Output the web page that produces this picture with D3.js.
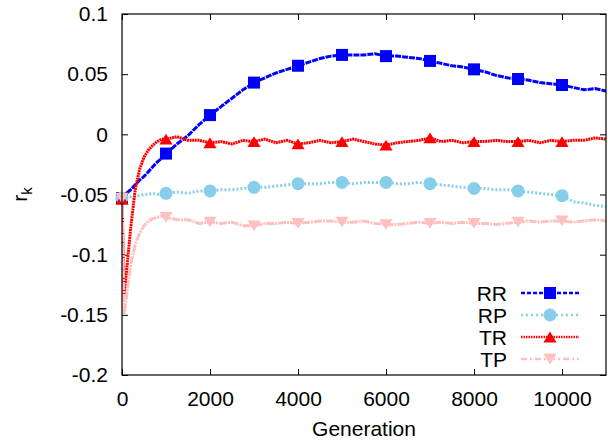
<!DOCTYPE html>
<html>
<head>
<meta charset="utf-8">
<script src="https://cdn.jsdelivr.net/npm/d3@7"></script>
<style>
  body { margin: 0; background: #fff; }
  text { font-family: "Liberation Sans", Arial, sans-serif; }
</style>
</head>
<body>
<script>
// generations sampled for every series
var generations = [0, 50, 100, 200, 300, 400, 500, 600, 700, 800, 900, 1000,
  1250, 1500, 1750, 2000, 2250, 2500, 2750, 3000, 3250, 3500, 3750, 4000,
  4250, 4500, 4750, 5000, 5250, 5500, 5750, 6000, 6250, 6500, 6750, 7000,
  7250, 7500, 7750, 8000, 8250, 8500, 8750, 9000, 9250, 9500, 9750, 10000,
  10250, 10500, 10750, 11000];

var rrValues = [-0.053, -0.051, -0.049, -0.046, -0.042, -0.038, -0.035, -0.031, -0.027, -0.023, -0.020, -0.016,
  -0.008, -0.001, 0.008, 0.016, 0.023, 0.030, 0.037, 0.043, 0.047, 0.051, 0.054, 0.057,
  0.060, 0.063, 0.065, 0.066, 0.066, 0.066, 0.067, 0.065, 0.065, 0.064, 0.063, 0.061,
  0.059, 0.057, 0.056, 0.054, 0.052, 0.049, 0.047, 0.046, 0.045, 0.043, 0.042, 0.041,
  0.039, 0.037, 0.038, 0.036];

var rpValues = [-0.053, -0.053, -0.052, -0.052, -0.051, -0.051, -0.050, -0.050, -0.049, -0.050, -0.049, -0.049,
  -0.048, -0.049, -0.047, -0.047, -0.046, -0.046, -0.045, -0.044, -0.044, -0.043, -0.042, -0.041,
  -0.041, -0.041, -0.040, -0.040, -0.041, -0.040, -0.040, -0.040, -0.041, -0.041, -0.040, -0.041,
  -0.042, -0.043, -0.044, -0.045, -0.045, -0.046, -0.046, -0.047, -0.048, -0.049, -0.050, -0.051,
  -0.056, -0.057, -0.059, -0.060];

var trValues = [-0.054, -0.133, -0.115, -0.077, -0.046, -0.029, -0.019, -0.013, -0.009, -0.006, -0.004, -0.004,
  -0.002, -0.005, -0.005, -0.007, -0.006, -0.008, -0.005, -0.006, -0.004, -0.007, -0.005, -0.008,
  -0.007, -0.005, -0.007, -0.006, -0.004, -0.006, -0.008, -0.009, -0.007, -0.006, -0.005, -0.003,
  -0.006, -0.005, -0.007, -0.006, -0.006, -0.005, -0.006, -0.006, -0.005, -0.007, -0.005, -0.006,
  -0.005, -0.005, -0.003, -0.004];

var tpValues = [-0.053, -0.150, -0.135, -0.108, -0.092, -0.082, -0.076, -0.072, -0.070, -0.069, -0.068, -0.069,
  -0.071, -0.071, -0.074, -0.073, -0.074, -0.073, -0.076, -0.076, -0.074, -0.074, -0.073, -0.074,
  -0.073, -0.072, -0.072, -0.073, -0.073, -0.072, -0.074, -0.075, -0.075, -0.074, -0.073, -0.074,
  -0.073, -0.074, -0.073, -0.074, -0.074, -0.075, -0.074, -0.073, -0.072, -0.073, -0.072, -0.072,
  -0.073, -0.072, -0.071, -0.072];

var seriesNames = ["RR", "RP", "TR", "TP"];
var xTicks = [0, 2000, 4000, 6000, 8000, 10000];
var yTicks = [0.1, 0.05, 0, -0.05, -0.1, -0.15, -0.2];
var markerGens = [0, 1000, 2000, 3000, 4000, 5000, 6000, 7000, 8000, 9000, 10000];

window.onload = start;

function start() {
    var width = 608;
    var height = 441;
    var margin = {left: 122, right: 2, top: 14, bottom: 66};

    var svg = d3.select("body").append("svg")
        .attr("width", width)
        .attr("height", height);

    var x = d3.scaleLinear().domain([0, 11000]).range([margin.left, width - margin.right]);
    var y = d3.scaleLinear().domain([-0.2, 0.1]).range([height - margin.bottom, margin.top]);

    var styles = {
      RR: {color: "#0000ff", dash: "6,1", legendDash: "4,2", marker: "square", values: rrValues},
      RP: {color: "#87ceeb", dash: "2,2", legendDash: "2,3", marker: "circle", values: rpValues},
      TR: {color: "#ff0000", dash: "2,0.6", legendDash: "1.5,1", marker: "triangle", values: trValues},
      TP: {color: "#ffc0c0", dash: "8,1,2,1", legendDash: "6,3,2,3", marker: "triangleDown", values: tpValues}
    };

    svg.append("clipPath").attr("id", "plotclip")
      .append("rect")
      .attr("x", x(0)).attr("y", y(0.1))
      .attr("width", x(11000) - x(0)).attr("height", y(-0.2) - y(0.1));

    // axes, ticks inward on all four sides; plain hyphen for minus like the original
    var fmt = function(d) { return String(+d.toFixed(2)); };
    var xAxis = d3.axisBottom(x).tickValues(xTicks).tickSize(-6).tickPadding(16).tickFormat(fmt);
    var xTop = d3.axisTop(x).tickValues(xTicks).tickSize(-6).tickFormat("");
    var yAxis = d3.axisLeft(y).tickValues(yTicks).tickSize(-6).tickPadding(14).tickFormat(fmt);
    var yRight = d3.axisRight(y).tickValues(yTicks).tickSize(-6).tickFormat("");

    function styleAxis(g) {
      g.select(".domain").remove();
      g.selectAll("line").attr("stroke", "#000");
      g.selectAll("text").attr("font-size", 21).attr("fill", "#000");
    }

    svg.append("g").attr("transform", "translate(0," + y(-0.2) + ")").call(xAxis).call(styleAxis);
    svg.append("g").attr("transform", "translate(0," + y(0.1) + ")").call(xTop).call(styleAxis);
    svg.append("g").attr("transform", "translate(" + x(0) + ",0)").call(yAxis).call(styleAxis);
    svg.append("g").attr("transform", "translate(" + x(11000) + ",0)").call(yRight).call(styleAxis);

    var plot = svg.append("g").attr("clip-path", "url(#plotclip)");

    var line = d3.line()
      .x(function(d) { return x(d[0]); })
      .y(function(d) { return y(d[1]); });

    function markerPath(type, size) {
      if (type === "square") return d3.symbol().type(d3.symbolSquare).size(size * size)();
      if (type === "circle") return d3.symbol().type(d3.symbolCircle).size(Math.PI * size * size / 4)();
      var h = size * 0.9, w = size * 0.55;
      if (type === "triangle") return "M0," + (-h / 2) + "L" + w + "," + (h / 2) + "L" + (-w) + "," + (h / 2) + "Z";
      return "M0," + (h / 2) + "L" + w + "," + (-h / 2) + "L" + (-w) + "," + (-h / 2) + "Z";
    }

    seriesNames.forEach(function(name) {
      var s = styles[name];
      var pts = generations.map(function(g, i) { return [g, s.values[i]]; });

      plot.append("path")
        .datum(pts)
        .attr("fill", "none")
        .attr("stroke", s.color)
        .attr("stroke-width", 3)
        .attr("stroke-dasharray", s.dash)
        .attr("d", line);

      var marks = pts.filter(function(p) { return markerGens.indexOf(p[0]) !== -1; });
      svg.selectAll(".m" + name)
        .data(marks)
        .enter()
        .append("path")
        .attr("class", "m" + name)
        .attr("transform", function(d) { return "translate(" + x(d[0]) + "," + y(d[1]) + ")"; })
        .attr("d", markerPath(s.marker, s.marker === "circle" ? 13 : 12))
        .attr("fill", s.color);
    });

    // frame
    svg.append("rect")
      .attr("x", x(0)).attr("y", y(0.1))
      .attr("width", x(11000) - x(0)).attr("height", y(-0.2) - y(0.1))
      .attr("fill", "none").attr("stroke", "#000").attr("stroke-width", 1.2);

    // legend
    var legend = svg.append("g");
    seriesNames.forEach(function(name, i) {
      var s = styles[name];
      var ly = 293 + i * 22;
      legend.append("text")
        .attr("x", 507).attr("y", ly)
        .attr("dy", "0.36em")
        .attr("text-anchor", "end")
        .attr("font-size", 21)
        .text(name);
      legend.append("line")
        .attr("x1", 521).attr("x2", 579)
        .attr("y1", ly).attr("y2", ly)
        .attr("stroke", s.color)
        .attr("stroke-width", 2.5)
        .attr("stroke-dasharray", s.legendDash);
      legend.append("path")
        .attr("transform", "translate(550," + ly + ")")
        .attr("d", markerPath(s.marker, s.marker === "circle" ? 13 : 12))
        .attr("fill", s.color);
    });

    // axis titles
    svg.append("text")
      .attr("x", (x(0) + x(11000)) / 2)
      .attr("y", 436)
      .attr("text-anchor", "middle")
      .attr("font-size", 21)
      .text("Generation");

    var ylab = svg.append("text")
      .attr("transform", "translate(27," + y(-0.05) + ") rotate(-90)")
      .attr("text-anchor", "middle")
      .attr("font-size", 21);
    ylab.append("tspan").text("r");
    ylab.append("tspan").attr("font-size", 15).attr("dy", 5).text("k");
}
</script>
</body>
</html>
